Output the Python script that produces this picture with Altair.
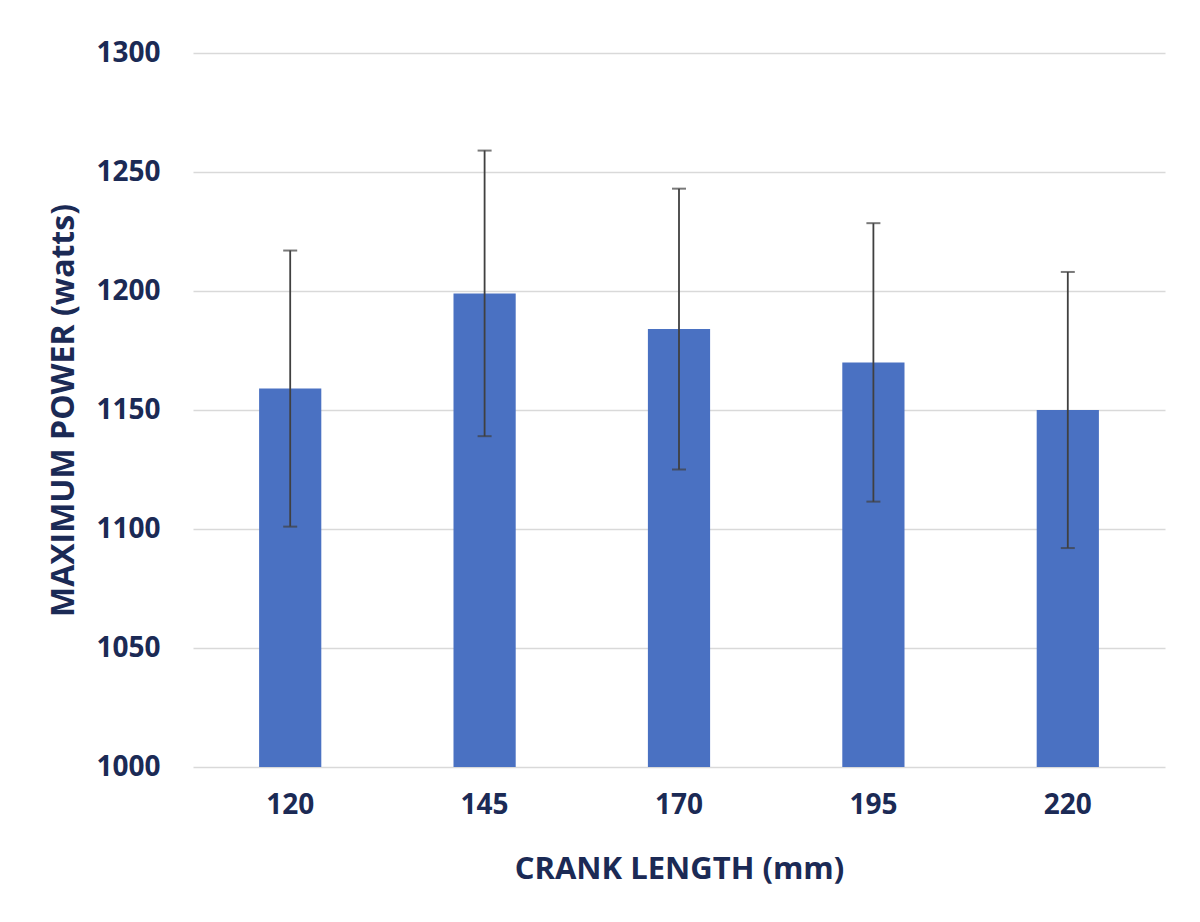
import altair as alt
import pandas as pd

crank = ["120", "145", "170", "195", "220"]
power = [1159, 1199, 1184, 1170, 1150]
err = [58, 60, 59, 58.5, 58]

df = pd.DataFrame({
    "crank": crank,
    "power": power,
    "lower": [p - e for p, e in zip(power, err)],
    "upper": [p + e for p, e in zip(power, err)],
})

NAVY = "#1b2a55"
FONT = "Open Sans"

x = alt.X(
    "crank:N",
    sort=crank,
    scale=alt.Scale(paddingInner=0.68, paddingOuter=0.34),
    axis=alt.Axis(
        title="CRANK LENGTH (mm)",
        labelAngle=0,
        labelFont=FONT, labelFontSize=28, labelFontWeight="bold", labelColor=NAVY,
        labelPadding=24,
        titleFont=FONT, titleFontSize=31, titleFontWeight="bold", titleColor=NAVY,
        titleY=102, titleBaseline="middle",
        domain=False, ticks=False, grid=False,
    ),
)

bars = alt.Chart(df).mark_bar(color="#4a71c2").encode(
    x=x,
    y=alt.Y(
        "power:Q",
        scale=alt.Scale(domain=[1000, 1300], zero=False, nice=False),
        axis=alt.Axis(
            title="MAXIMUM POWER (watts)",
            values=[1000, 1050, 1100, 1150, 1200, 1250, 1300],
            format="d",
            labelFont=FONT, labelFontSize=28, labelFontWeight="bold", labelColor=NAVY,
            labelPadding=33,
            titleFont=FONT, titleFontSize=32, titleFontWeight="bold", titleColor=NAVY,
            titleX=-130, titleY=357, titleAngle=270, titleBaseline="middle", titleAlign="center",
            domain=False, ticks=False,
            grid=True, gridColor="#d9d9d9", gridWidth=1.5,
        ),
    ),
    y2=alt.datum(1000),
)

rules = alt.Chart(df).mark_rule(color="#404040", strokeWidth=1.8).encode(
    x=alt.X("crank:N", sort=crank),
    y="lower:Q",
    y2="upper:Q",
)

caps_hi = alt.Chart(df).mark_tick(color="#404040", size=14, thickness=2).encode(
    x=alt.X("crank:N", sort=crank),
    y="upper:Q",
)
caps_lo = alt.Chart(df).mark_tick(color="#404040", size=14, thickness=2).encode(
    x=alt.X("crank:N", sort=crank),
    y="lower:Q",
)

chart = alt.layer(bars, rules, caps_hi, caps_lo).properties(
    width=972,
    height=714,
    autosize=alt.AutoSizeParams(type="none"),
    padding={"left": 185, "top": 45, "right": 27, "bottom": 147},
).configure_view(strokeWidth=0)

chart.save("out.html", embed_options={"renderer": "svg", "actions": False})
